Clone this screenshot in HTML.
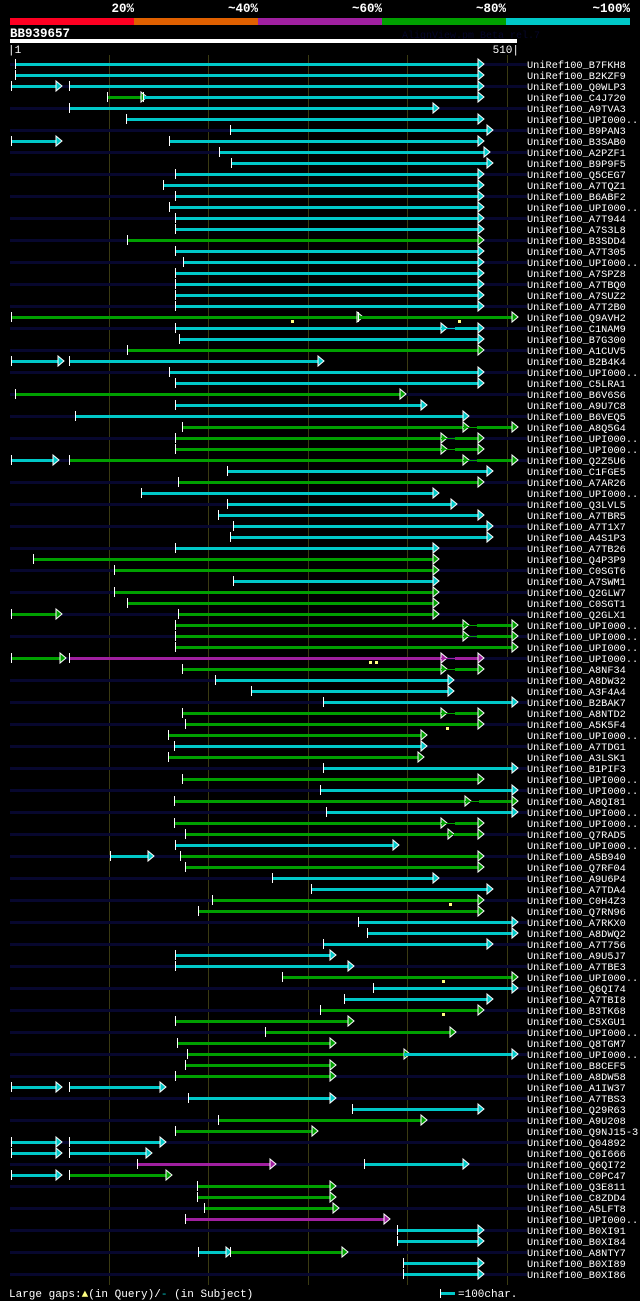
<!DOCTYPE html>
<html><head><meta charset="utf-8"><style>
html,body{margin:0;padding:0;background:#000;}
svg{display:block;font-family:"Liberation Mono",monospace;}
</style></head>
<body>
<svg id="chart" width="640" height="1301" viewBox="0 0 640 1301" xmlns="http://www.w3.org/2000/svg">
<rect width="640" height="1301" fill="#000"/>
<g font-weight="bold" font-size="12.5" fill="#fff" text-anchor="end">
<text x="134" y="12">20%</text><text x="258" y="12">~40%</text><text x="382" y="12">~60%</text><text x="506" y="12">~80%</text><text x="630" y="12">~100%</text>
</g>
<rect x="10" y="18" width="124" height="7" fill="#ff0022"/>
<rect x="134" y="18" width="124" height="7" fill="#e06000"/>
<rect x="258" y="18" width="124" height="7" fill="#a020a0"/>
<rect x="382" y="18" width="124" height="7" fill="#00a000"/>
<rect x="506" y="18" width="124" height="7" fill="#00c8c8"/>
<text x="10" y="37" font-size="12.5" font-weight="bold" fill="#fff">BB939657</text>
<text x="402" y="38" font-size="10" fill="#06062a">AlignView.pm Beta rel.7</text>
<rect x="10" y="39" width="507" height="4" fill="#fff"/>
<text x="8" y="53" font-size="11" fill="#fff">|1</text>
<text x="519" y="53" font-size="11" fill="#fff" text-anchor="end">510|</text>
<g id="grid" shape-rendering="crispEdges"></g><g id="rows" shape-rendering="crispEdges"></g>
<g font-size="11" fill="#fff">
<text x="9" y="1297">Large gaps:<tspan fill="#ffff80">▲</tspan>(in Query)/<tspan fill="#00c8c8">-</tspan> (in Subject)</text>
<rect x="440" y="1292" width="15" height="3" fill="#00c8c8"/>
<rect x="440" y="1289" width="1" height="9" fill="#fff"/>
<text x="458" y="1297">=100char.</text>
</g>
</svg>
<script>
const names=["B7FKH8","B2KZF9","Q0WLP3","C4J720","A9TVA3","UPI000..","B9PAN3","B3SAB0","A2PZF1","B9P9F5","Q5CEG7","A7TQZ1","B6ABF2","UPI000..","A7T944","A7S3L8","B3SDD4","A7T305","UPI000..","A7SPZ8","A7TBQ0","A7SUZ2","A7T2B0","Q9AVH2","C1NAM9","B7G300","A1CUV5","B2B4K4","UPI000..","C5LRA1","B6V6S6","A9U7C8","B6VEQ5","A8Q5G4","UPI000..","UPI000..","Q2Z5U6","C1FGE5","A7AR26","UPI000..","Q3LVL5","A7TBR5","A7T1X7","A4S1P3","A7TB26","Q4P3P9","C0SGT6","A7SWM1","Q2GLW7","C0SGT1","Q2GLX1","UPI000..","UPI000..","UPI000..","UPI000..","A8NF34","A8DW32","A3F4A4","B2BAK7","A8NTD2","A5K5F4","UPI000..","A7TDG1","A3LSK1","B1PIF3","UPI000..","UPI000..","A8QI81","UPI000..","UPI000..","Q7RAD5","UPI000..","A5B940","Q7RF04","A9U6P4","A7TDA4","C0H4Z3","Q7RN96","A7RKX0","A8DWQ2","A7T756","A9U5J7","A7TBE3","UPI000..","Q6QI74","A7TBI8","B3TK68","C5XGU1","UPI000..","Q8TGM7","UPI000..","B8CEF5","A8DW58","A1IW37","A7TBS3","Q29R63","A9U208","Q9NJ15-3","Q04892","Q6I666","Q6QI72","C0PC47","Q3E811","C8ZDD4","A5LFT8","UPI000..","B0XI91","B0XI84","A8NTY7","B0XI89","B0XI86"];
const G2=[[165,431,"g"],[431,445,"g","L"],[445,468,"g","N"]];
const GW=[[165,453,"g"],[453,467,"g","L"],[467,502,"g","N"]];
const C468=[[165,468,"c"]];
const segments=[
[[5,468,"c"]],[[5,468,"c"]],[[1,46,"c"],[59,468,"c"]],[[97,131,"g"],[133,468,"c"]],[[59,423,"c"]],
[[116,468,"c"]],[[220,477,"c"]],[[1,46,"c"],[159,468,"c"]],[[209,474,"c"]],[[221,477,"c"]],
[[165,468,"c"]],[[153,468,"c"]],C468,[[159,468,"c"]],C468,C468,[[117,468,"g"]],C468,[[173,468,"c"]],C468,C468,C468,C468,
[[1,347,"g"],[348,502,"g"]],
[[165,431,"c"],[431,445,"c","L"],[445,468,"c","N"]],[[169,468,"c"]],[[117,468,"g"]],[[1,48,"c"],[59,308,"c"]],
[[159,468,"c"]],C468,[[5,390,"g"]],[[165,411,"c"]],[[65,453,"c"]],
[[172,453,"g"],[453,467,"g","L"],[467,502,"g","N"]],G2,G2,
[[1,43,"c"],[59,453,"g"],[453,467,"g","L"],[467,502,"g","N"]],
[[217,477,"c"]],[[168,468,"g"]],[[131,423,"c"]],[[217,441,"c"]],[[208,468,"c"]],[[223,477,"c"]],[[220,477,"c"]],
[[165,423,"c"]],[[23,423,"g"]],[[104,423,"g"]],[[223,423,"c"]],[[104,423,"g"]],[[117,423,"g"]],
[[1,46,"g"],[168,423,"g"]],GW,GW,[[165,502,"g"]],
[[1,50,"g"],[59,431,"p"],[431,445,"p","L"],[445,468,"p","N"]],
[[172,431,"g"],[431,445,"g","L"],[445,468,"g","N"]],[[205,438,"c"]],[[241,438,"c"]],[[313,502,"c"]],
[[172,431,"g"],[431,445,"g","L"],[445,468,"g","N"]],[[175,468,"g"]],[[158,411,"g"]],[[164,411,"c"]],[[158,408,"g"]],
[[313,502,"c"]],[[172,468,"g"]],[[310,502,"c"]],[[164,455,"g"],[455,469,"g","L"],[469,502,"g","N"]],[[316,502,"c"]],
[[164,431,"g"],[431,445,"g","L"],[445,468,"g","N"]],[[175,438,"g"],[438,444,"g","L"],[444,468,"g","N"]],
[[165,383,"c"]],[[100,138,"c"],[170,468,"g"]],[[175,468,"g"]],[[262,423,"c"]],[[301,477,"c"]],[[202,468,"g"]],[[188,468,"g"]],
[[348,502,"c"]],[[357,502,"c"]],[[313,477,"c"]],[[165,320,"c"]],[[165,338,"c"]],[[272,502,"g"]],[[363,502,"c"]],[[334,477,"c"]],
[[310,468,"g"]],[[165,338,"g"]],[[255,440,"g"]],[[167,320,"g"]],[[177,394,"g"],[394,502,"c","N"]],[[175,320,"g"]],[[165,320,"g"]],
[[1,46,"c"],[59,150,"c"]],[[178,320,"c"]],[[342,468,"c"]],[[208,411,"g"]],[[165,302,"g"]],[[1,46,"c"],[59,150,"c"]],
[[1,46,"c"],[59,136,"c"]],[[127,260,"p"],[354,453,"c"]],[[1,46,"c"],[59,156,"g"]],[[187,320,"g"]],[[187,320,"g"]],[[194,323,"g"]],
[[175,374,"p"]],[[387,468,"c"]],[[387,468,"c"]],[[188,216,"c"],[220,332,"g"]],[[393,468,"c"]],[[393,468,"c"]]
];
const gapRows=[23,23,54,54,60,76,83,86];
const gapPos=[282,449,360,366,437,440,433,433];
const gridTicks=[99,198,298,397,497];
const colors={c:"#00c8c8",g:"#00a000",p:"#a020a0"};
const NS="http://www.w3.org/2000/svg";
const xS=p=>10+p;
const yS=i=>64+11*i;
function mk(tag,at,parent){const e=document.createElementNS(NS,tag);for(const k in at)e.setAttribute(k,at[k]);parent.appendChild(e);return e;}
const grid=document.getElementById('grid');
gridTicks.forEach(t=>{
 const l=mk('rect',{x:xS(t),y:55,width:1,height:1230,fill:'#3a3a12'},grid);
 
 
});
const rows=document.getElementById('rows');
names.forEach((n,i)=>{
 const y=yS(i);
 const g=mk('g',{},rows);
 
 
 if(i%2===0){mk('rect',{x:10,y:y-1,width:517,height:3,fill:'#07072e'},g);}
 (segments[i]||[]).forEach(s=>{
  const [a,b,c,k]=s;const col=colors[c];
  if(k==='L'){mk('rect',{x:xS(a),y:y,width:xS(b)-xS(a),height:1,fill:col},g);return;}
  const ln=mk('rect',{x:xS(a),y:y-1,width:xS(b)-xS(a),height:3,fill:col},g);
  
  
  if(k!=='N'){mk('rect',{x:xS(a),y:y-5,width:1,height:10,fill:'#fff'},g);}
  mk('polygon',{points:`${xS(b)},${y-5} ${xS(b)+6},${y} ${xS(b)},${y+5}`,fill:col,stroke:'#fff','stroke-width':1,'shape-rendering':'auto'},g);
 });
 const t=mk('text',{x:527,y:y+4,'font-size':10.3,fill:'#fff'},g);
 t.textContent='UniRef100_'+n;
 
 
});
gapRows.forEach((r,j)=>{
 const m=mk('rect',{x:xS(gapPos[j])-1,y:yS(r)+3,width:3,height:3,fill:'#ffff80'},rows);
 
 
});
</script>
</body></html>
